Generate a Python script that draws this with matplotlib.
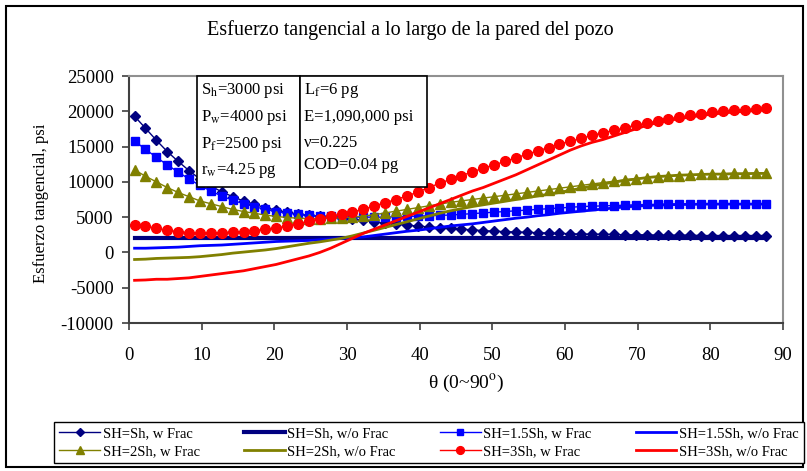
import numpy as np
import matplotlib.pyplot as plt
from matplotlib.patches import Rectangle

plt.rcParams['font.family'] = ['Liberation Serif', 'DejaVu Serif']
plt.rcParams['mathtext.fontset'] = 'stix'
plt.rcParams['axes.unicode_minus'] = False

# angle along the wellbore wall, degrees
theta = np.arange(0.75, 88.5, 1.5)

# tangential stress, thousands of psi
sh1_frac = [19.3, 17.6, 15.9, 14.3, 12.9, 11.6, 10.4, 9.4, 8.6, 7.9, 7.3, 6.8, 6.35, 6.0, 5.7,
            5.45, 5.25, 5.1, 5.0, 4.9, 4.75, 4.55, 4.35, 4.15, 4.0, 3.85, 3.75, 3.6, 3.5, 3.4,
            3.3, 3.2, 3.1, 3.0, 2.95, 2.9, 2.85, 2.8, 2.75, 2.7, 2.65, 2.6, 2.6, 2.55, 2.55,
            2.5, 2.5, 2.5, 2.45, 2.45, 2.45, 2.45, 2.4, 2.4, 2.4, 2.4, 2.4, 2.4, 2.4]
sh1_nofrac = [2.05, 2.05, 2.05, 2.05, 2.05, 2.05, 2.05, 2.05, 2.05, 2.05, 2.05, 2.05, 2.05, 2.05, 2.05,
              2.05, 2.05, 2.05, 2.05, 2.05, 2.05, 2.05, 2.05, 2.05, 2.05, 2.05, 2.05, 2.05, 2.05, 2.05,
              2.05, 2.05, 2.05, 2.05, 2.05, 2.05, 2.05, 2.05, 2.05, 2.05, 2.05, 2.05, 2.05, 2.05, 2.05,
              2.05, 2.05, 2.05, 2.05, 2.05, 2.05, 2.05, 2.05, 2.05, 2.05, 2.05, 2.05, 2.05, 2.05]
sh15_frac = [15.8, 14.6, 13.5, 12.4, 11.4, 10.4, 9.5, 8.7, 8.0, 7.4, 6.9, 6.5, 6.1, 5.8, 5.55,
             5.4, 5.25, 5.15, 5.1, 5.05, 5.0, 5.0, 5.0, 5.0, 5.05, 5.1, 5.15, 5.2, 5.25, 5.3,
             5.4, 5.5, 5.6, 5.7, 5.8, 5.9, 6.0, 6.1, 6.2, 6.3, 6.4, 6.5, 6.55, 6.6, 6.65,
             6.7, 6.75, 6.8, 6.8, 6.85, 6.85, 6.85, 6.9, 6.9, 6.9, 6.9, 6.9, 6.9, 6.9]
sh15_nofrac = [0.6, 0.6, 0.65, 0.7, 0.75, 0.85, 0.95, 1.0, 1.05, 1.15, 1.25, 1.35, 1.45, 1.55, 1.6,
               1.65, 1.7, 1.8, 1.9, 2.0, 2.1, 2.2, 2.4, 2.6, 2.8, 3.0, 3.15, 3.35, 3.55, 3.75,
               3.9, 4.05, 4.25, 4.45, 4.65, 4.85, 5.0, 5.2, 5.35, 5.55, 5.7, 5.85, 6.0, 6.15, 6.3,
               6.45, 6.55, 6.65, 6.7, 6.75, 6.8, 6.8, 6.85, 6.85, 6.85, 6.85, 6.85, 6.85, 6.85]
sh2_frac = [11.7, 10.8, 10.0, 9.2, 8.5, 7.9, 7.3, 6.9, 6.5, 6.1, 5.8, 5.55, 5.3, 5.1, 4.95,
            4.85, 4.8, 4.8, 4.85, 4.9, 5.0, 5.15, 5.35, 5.6, 5.85, 6.1, 6.35, 6.6, 6.85, 7.1,
            7.3, 7.5, 7.7, 7.9, 8.1, 8.3, 8.5, 8.7, 8.9, 9.1, 9.3, 9.5, 9.7, 9.9, 10.1,
            10.3, 10.45, 10.6, 10.7, 10.8, 10.9, 11.0, 11.05, 11.1, 11.15, 11.2, 11.2, 11.2, 11.2]
sh2_nofrac = [-1.0, -0.95, -0.85, -0.8, -0.75, -0.7, -0.6, -0.45, -0.3, -0.1, 0.05, 0.2, 0.35, 0.55, 0.8,
              1.05, 1.3, 1.5, 1.75, 2.0, 2.35, 2.75, 3.15, 3.55, 3.95, 4.35, 4.75, 5.15, 5.55, 5.9,
              6.2, 6.5, 6.75, 7.0, 7.25, 7.5, 7.75, 8.0, 8.25, 8.5, 8.8, 9.1, 9.4, 9.7, 9.95,
              10.2, 10.4, 10.6, 10.75, 10.85, 10.95, 11.0, 11.05, 11.1, 11.1, 11.15, 11.15, 11.2, 11.2]
sh3_frac = [3.9, 3.75, 3.4, 3.15, 2.95, 2.8, 2.75, 2.75, 2.8, 2.9, 2.95, 3.1, 3.3, 3.45, 3.75,
            4.1, 4.4, 4.8, 5.15, 5.4, 5.75, 6.1, 6.6, 7.05, 7.5, 8.0, 8.55, 9.2, 9.8, 10.35,
            10.9, 11.4, 11.95, 12.4, 12.9, 13.4, 13.9, 14.4, 14.85, 15.35, 15.75, 16.15, 16.6, 16.95, 17.3,
            17.65, 18.05, 18.3, 18.65, 18.95, 19.15, 19.45, 19.65, 19.9, 20.0, 20.15, 20.25, 20.35, 20.4]
sh3_nofrac = [-3.95, -3.9, -3.8, -3.8, -3.7, -3.6, -3.4, -3.2, -3.0, -2.8, -2.6, -2.3, -2.0, -1.7, -1.3,
              -0.9, -0.5, 0.0, 0.6, 1.3, 2.0, 2.7, 3.3, 3.9, 4.5, 5.1, 5.7, 6.3, 6.9, 7.5,
              8.1, 8.7, 9.2, 9.8, 10.4, 11.0, 11.7, 12.4, 13.1, 13.8, 14.5, 15.1, 15.6, 16.0, 16.5,
              17.0, 17.5, 18.0, 18.4, 18.7, 18.95, 19.2, 19.4, 19.6, 19.75, 19.9, 20.0, 20.1, 20.2]

labels = ['SH=Sh, w Frac', 'SH=Sh, w/o Frac', 'SH=1.5Sh, w Frac', 'SH=1.5Sh, w/o Frac',
          'SH=2Sh, w Frac', 'SH=2Sh, w/o Frac', 'SH=3Sh, w Frac', 'SH=3Sh, w/o Frac']

fig = plt.figure(figsize=(8.07, 4.71), dpi=100)
ax = fig.add_axes([0.160, 0.3142, 0.810, 0.5244])

def kpsi(v):
    return np.array(v) * 1000

h = []
h += ax.plot(theta, kpsi(sh1_frac), color='#000080', marker='D', ms=5.5, lw=1, label=labels[0])
h += ax.plot(theta, kpsi(sh1_nofrac), color='#000080', lw=3, label=labels[1])
h += ax.plot(theta, kpsi(sh15_frac), color='#0000FF', marker='s', ms=6, lw=1, label=labels[2])
h += ax.plot(theta, kpsi(sh15_nofrac), color='#0000FF', lw=2, label=labels[3])
h += ax.plot(theta, kpsi(sh2_frac), color='#808000', marker='^', ms=7, lw=1, label=labels[4])
h += ax.plot(theta, kpsi(sh2_nofrac), color='#808000', lw=2, label=labels[5])
h += ax.plot(theta, kpsi(sh3_frac), color='#FF0000', marker='o', ms=7, lw=1, label=labels[6])
h += ax.plot(theta, kpsi(sh3_nofrac), color='#FF0000', lw=2, label=labels[7])

ax.set_xlim(0, 90)
ax.set_ylim(-10000, 25000)
ax.set_xticks(range(0, 91, 10))
ax.set_yticks(range(-10000, 25001, 5000))
ax.tick_params(labelsize=13.5, length=5, width=1.2, color='#404040')
ax.tick_params(axis='x', pad=12)
ax.tick_params(axis='y', pad=6)
for s in ['left', 'bottom']:
    ax.spines[s].set_color('#404040')
    ax.spines[s].set_linewidth(1.5)
for s in ['top', 'right']:
    ax.spines[s].set_color('#909090')
    ax.spines[s].set_linewidth(1.5)

# parameter boxes
ax.add_patch(Rectangle((0.1035, 0.552), 0.1575, 0.448, transform=ax.transAxes,
                       facecolor='white', edgecolor='black', lw=1.2, zorder=5, clip_on=False))
ax.add_patch(Rectangle((0.261, 0.552), 0.194, 0.448, transform=ax.transAxes,
                       facecolor='white', edgecolor='black', lw=1.2, zorder=5, clip_on=False))
left_txt = [r'S$_{\mathrm{h}}$=3000 psi', r'P$_{\mathrm{w}}$=4000 psi',
            r'P$_{\mathrm{f}}$=2500 psi', r'r$_{\mathrm{w}}$=4.25 pg']
right_txt = [r'L$_{\mathrm{f}}$=6 pg', 'E=1,090,000 psi', 'ν=0.225', 'COD=0.04 pg']
for t, y in zip(left_txt, [0.942, 0.833, 0.724, 0.619]):
    ax.text(0.1096, y, t, transform=ax.transAxes, fontsize=12, va='center', zorder=6)
for t, y in zip(right_txt, [0.942, 0.833, 0.728, 0.639]):
    ax.text(0.267, y, t, transform=ax.transAxes, fontsize=12, va='center', zorder=6)

fig.text(0.509, 1 - 30 / 471, 'Esfuerzo tangencial a lo largo de la pared del pozo',
         fontsize=14.5, ha='center', va='center')
fig.text(41.5 / 807, 1 - 203 / 471, 'Esfuerzo tangencial, psi', fontsize=12,
         rotation=90, ha='center', va='center')
fig.text(466 / 807, 1 - 383 / 471, r'θ (0~90$^{\mathrm{o}}$)', fontsize=14,
         ha='center', va='center')

order = [0, 4, 1, 5, 2, 6, 3, 7]
leg = fig.legend([h[i] for i in order], [labels[i] for i in order], ncol=4,
                 loc='lower left', bbox_to_anchor=(54 / 807, 1 - 463 / 471, 750 / 807, 42 / 471),
                 mode='expand', borderaxespad=0, fontsize=10.5, fancybox=False,
                 edgecolor='black', handlelength=2.8, handletextpad=0.2, markerscale=0.8,
                 labelspacing=0.3, borderpad=0.35, framealpha=1)
leg.get_frame().set_linewidth(1)

fig.add_artist(Rectangle((6 / 807, 4 / 471), 797 / 807, 461 / 471, transform=fig.transFigure,
                         fill=False, edgecolor='black', lw=1.5))

fig.savefig('out.png', dpi=100)
